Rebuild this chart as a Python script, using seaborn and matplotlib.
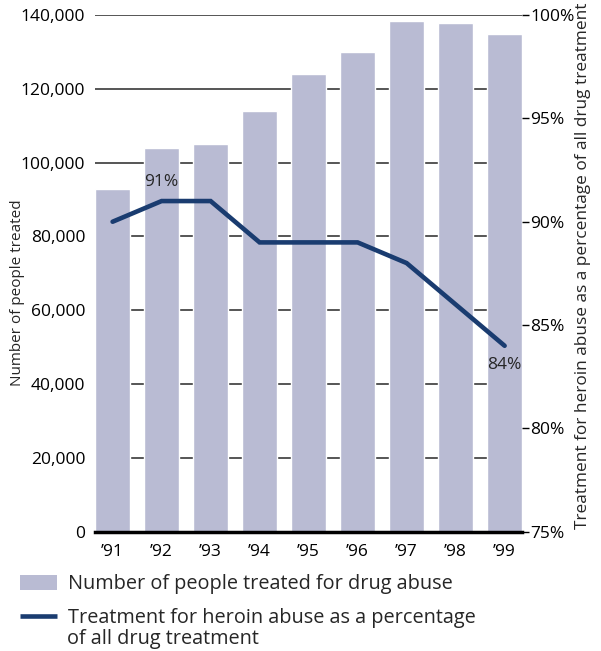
import numpy as np
import pandas as pd
import matplotlib
matplotlib.use("Agg")
import matplotlib.pyplot as plt
import seaborn as sns
from matplotlib.patches import Patch
from matplotlib.lines import Line2D

# values
years = ["\u201991", "\u201992", "\u201993", "\u201994", "\u201995", "\u201996", "\u201997", "\u201998", "\u201999"]
people_treated = [93000, 104000, 105000, 114000, 124000, 130000, 138500, 137800, 134800]
heroin_pct = [90, 91, 91, 89, 89, 89, 88, 86, 84]

bar_color = "#b9bbd3"
line_color = "#1a3c70"

sns.set_theme(style="white")
plt.rcParams["font.family"] = ["Open Sans", "DejaVu Sans"]

df = pd.DataFrame({"year": years, "people": people_treated, "pct": heroin_pct})

fig = plt.figure(figsize=(6.01, 6.51), dpi=100)
ax = fig.add_axes([0.158, 0.183, 0.711, 0.794])

sns.barplot(data=df, x="year", y="people", color=bar_color, width=0.71,
            saturation=1, ax=ax, zorder=2)
ax.set_xlim(-0.36, 8.36)
ax.set_ylim(0, 140000)
ax.set_yticks(range(0, 140001, 20000))
ax.set_yticklabels([f"{v:,}" for v in range(0, 140001, 20000)])
ax.yaxis.grid(True, color="#555555", linewidth=1.4, zorder=0)
ax.set_axisbelow(True)
for s in ["top", "right", "left"]:
    ax.spines[s].set_visible(False)
ax.spines["bottom"].set_color("black")
ax.spines["bottom"].set_linewidth(2.5)
ax.spines["bottom"].set_zorder(5)
ax.tick_params(axis="y", length=0, pad=7, labelsize=12.5, colors="black")
ax.tick_params(axis="x", length=0, pad=9, labelsize=12.5, colors="black")
ax.set_xlabel("")
ax.set_ylabel("")

ax2 = ax.twinx()
sns.lineplot(x=np.arange(len(years)), y=df["pct"], color=line_color,
             linewidth=3.3, ax=ax2, solid_capstyle="round", solid_joinstyle="miter")
ax2.set_ylim(75, 100)
ax2.set_yticks([75, 80, 85, 90, 95, 100])
ax2.set_yticklabels([f"{v}%" for v in [75, 80, 85, 90, 95, 100]])
for s in ["top", "right", "left", "bottom"]:
    ax2.spines[s].set_visible(False)
ax2.tick_params(axis="y", direction="out", length=5, width=1, color="black",
                pad=1, labelsize=12.5, colors="black", right=True)
ax2.set_ylabel("")
ax2.grid(False)

fig.text(18 / 601, 1 - 293 / 651, "Number of people treated", rotation=90,
         ha="center", va="center", fontsize=11)
fig.text(583 / 601, 1 - 266 / 651,
         "Treatment for heroin abuse as a percentage of all drug treatment",
         rotation=90, ha="center", va="center", fontsize=12.4)

ax2.text(1, heroin_pct[1] + 0.55, f"{heroin_pct[1]}%", ha="center", va="bottom", fontsize=12.5)
ax2.text(8, heroin_pct[8] - 0.55, f"{heroin_pct[8]}%", ha="center", va="top", fontsize=12.5)

# legend: handle of the line entry sits on the first text line, as in the reference
handles = [Patch(facecolor=bar_color, edgecolor="none"),
           Line2D([0], [0], color=line_color, linewidth=3.3, solid_capstyle="butt")]
labels = ["Number of people treated for drug abuse",
          "Treatment for heroin abuse as a percentage"]
fig.legend(handles, labels, loc="upper left", bbox_to_anchor=(20 / 601, 1 - 574 / 651),
           frameon=False, fontsize=14.3, handlelength=1.86, handleheight=0.8,
           handletextpad=0.55, labelspacing=0.72, borderaxespad=0, borderpad=0)
fig.text(67 / 601, 1 - 639 / 651, "of all drug treatment", ha="left", va="center",
         fontsize=14.3)

fig.savefig("out.png", dpi=100)
